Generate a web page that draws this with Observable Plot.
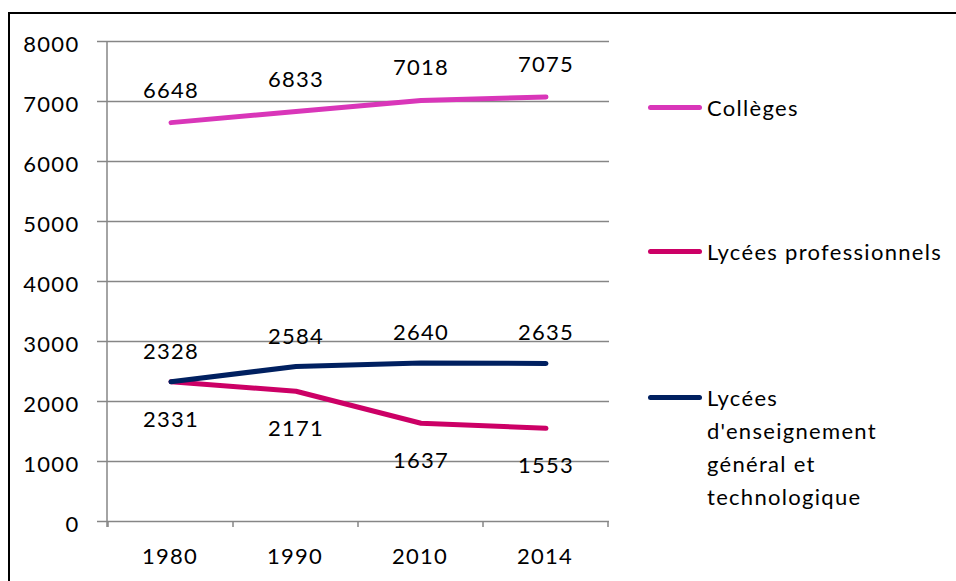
<!DOCTYPE html>
<html>
<head>
<meta charset="utf-8">
<script src="https://cdn.jsdelivr.net/npm/d3@7"></script>
<script src="https://cdn.jsdelivr.net/npm/@observablehq/plot@0.6"></script>
<style>
  html, body { margin: 0; padding: 0; background: #fff; }
  #wrap { position: relative; width: 956px; height: 581px; overflow: hidden; font-family: Lato, "Open Sans", sans-serif; }
  #frame { position: absolute; left: 8px; top: 12px; width: 1000px; height: 1000px; border-top: 2px solid #000; border-left: 2px solid #000; box-sizing: border-box; }
  #chart { position: absolute; left: 0; top: 0; line-height: 0; }
  #chart svg { display: block; }
  .leg { position: absolute; left: 648px; font-size: 22px; letter-spacing: 1.3px; color: #000; line-height: 33px; }
  .leg .sw { position: absolute; left: 0; width: 54px; height: 5px; border-radius: 3px; }
  .leg .tx { position: absolute; left: 59px; white-space: nowrap; }
</style>
</head>
<body>
<div id="wrap">
  <div id="frame"></div>
  <div id="chart"></div>
  <div id="legend"></div>
</div>
<script>
const years = ["1980", "1990", "2010", "2014"];
const colleges = [6648, 6833, 7018, 7075];
const lyceesPro = [2331, 2171, 1637, 1553];
const lyceesGT = [2328, 2584, 2640, 2635];
const seriesNames = ["Collèges", "Lycées professionnels", "Lycées d'enseignement général et technologique"];
const seriesColors = ["#D936B9", "#CC0066", "#002060"];
const yTicks = [0, 1000, 2000, 3000, 4000, 5000, 6000, 7000, 8000];

const seriesValues = [colleges, lyceesPro, lyceesGT];
const data = seriesNames.flatMap((s, i) => years.map((y, j) => ({series: s, year: y, value: seriesValues[i][j]})));
const labelDy = [-32, 38, -30];

const W = 956, H = 581;
const mL = 107, mR = 347, mT = 41, mB = 60;
const FS = 22;

// Axis frame: left axis line and x boundary ticks from the band scale
function axisFrame(index, scales, values, dims) {
  const x = scales.scales.x, y = scales.scales.y;
  const g = d3.create("svg:g").attr("stroke", "#868686").attr("stroke-width", 1.5).attr("fill", "none");
  const y0 = y.apply(0), y1 = y.apply(8000);
  g.append("line").attr("x1", dims.marginLeft).attr("x2", dims.marginLeft).attr("y1", y0 + 6).attr("y2", y1);
  const bw = x.bandwidth;
  const edges = x.domain.map(d => x.apply(d)).concat([x.apply(x.domain[x.domain.length - 1]) + bw]);
  edges.forEach(e => g.append("line").attr("x1", e).attr("x2", e).attr("y1", y0).attr("y2", y0 + 6));
  return g.node();
}

const plot = Plot.plot({
  width: W, height: H,
  marginLeft: mL, marginRight: mR, marginTop: mT, marginBottom: mB,
  style: {fontFamily: "Lato, 'Open Sans', sans-serif", fontSize: FS + "px", letterSpacing: "1.3px", color: "#000", background: "transparent"},
  x: {type: "band", domain: years, padding: 0, label: null},
  y: {domain: [0, 8000], label: null},
  color: {domain: seriesNames, range: seriesColors},
  marks: [
    Plot.gridY(yTicks, {stroke: "#868686", strokeOpacity: 1, strokeWidth: 1.5}),
    Plot.axisY(yTicks, {tickSize: 10, stroke: "#868686", strokeWidth: 1.5, tickFormat: () => "", label: null}),
    Plot.axisY(yTicks, {tickSize: 0, tickPadding: 28, tickFormat: d => String(d), fontSize: FS, fill: "#000", dy: 3, label: null}),
    Plot.axisX({tickSize: 0, tickPadding: 27, fontSize: FS, fill: "#000", dx: -1, label: null}),
    axisFrame,
    Plot.line(data, {x: "year", y: "value", z: "series", stroke: "series", strokeWidth: 5, strokeLinecap: "round", strokeLinejoin: "round"}),
    ...seriesNames.map((s, i) => Plot.text(data.filter(d => d.series === s), {x: "year", y: "value", text: d => String(d.value), dy: labelDy[i], fontSize: FS, fill: "#000"}))
  ]
});
document.getElementById("chart").appendChild(plot);

// Legend
const legendRows = [
  {name: seriesNames[0], lines: ["Collèges"], top: 107},
  {name: seriesNames[1], lines: ["Lycées professionnels"], top: 251},
  {name: seriesNames[2], lines: ["Lycées", "d'enseignement", "général et", "technologique"], top: 397}
];
const leg = document.getElementById("legend");
legendRows.forEach((r, i) => {
  const el = document.createElement("div");
  el.className = "leg";
  el.style.top = (r.top - 16.5) + "px";
  const sw = document.createElement("div");
  sw.className = "sw";
  sw.style.background = seriesColors[i];
  sw.style.top = "14px";
  el.appendChild(sw);
  const tx = document.createElement("div");
  tx.className = "tx";
  tx.innerHTML = r.lines.join("<br>");
  el.appendChild(tx);
  leg.appendChild(el);
});
</script>
</body>
</html>
